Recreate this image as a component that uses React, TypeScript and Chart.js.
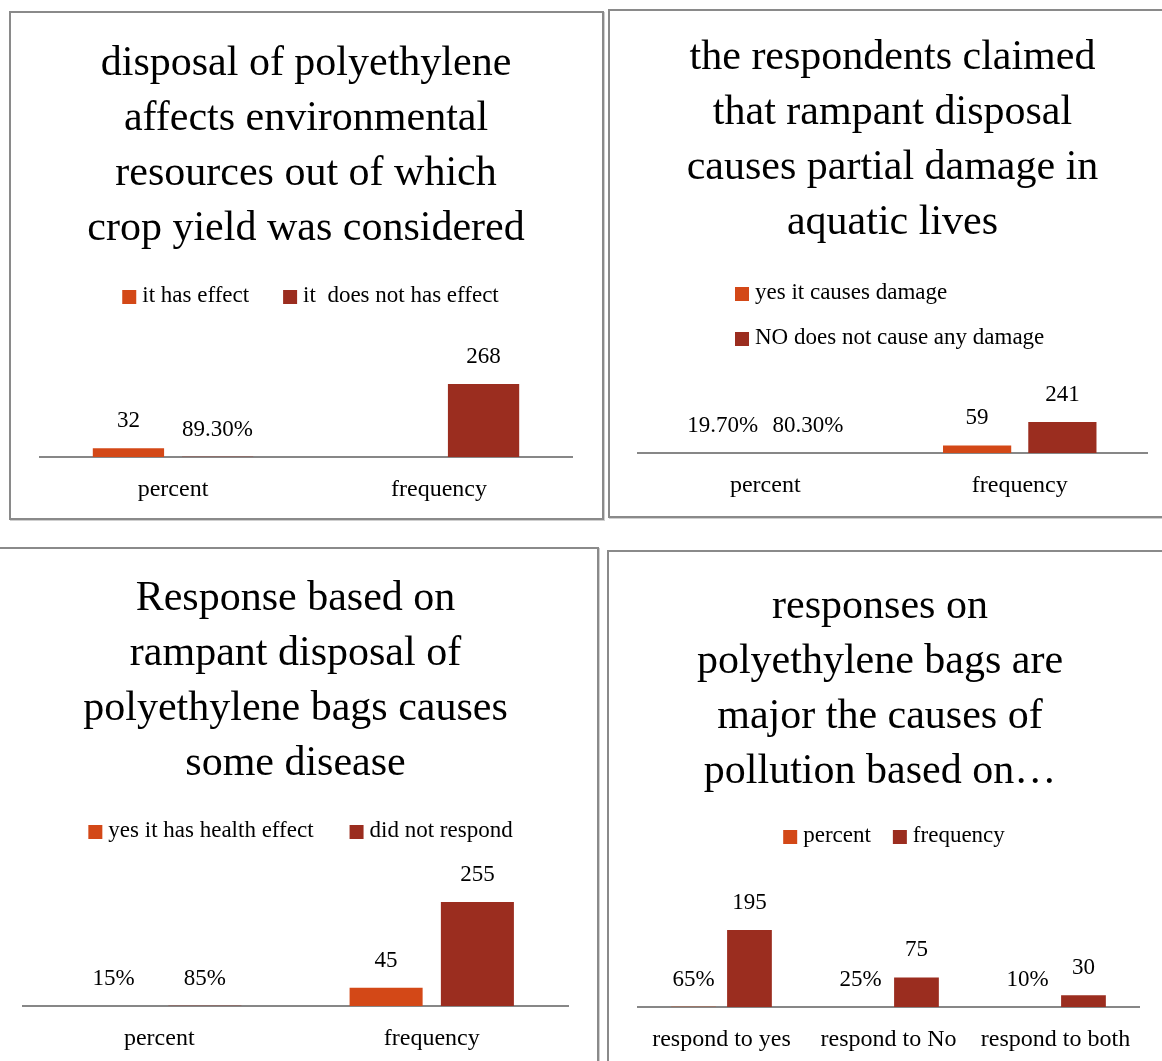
import React, { useEffect, useRef } from "react";
import { Chart, registerables } from "chart.js";

Chart.register(...registerables);

const FONT = "'Liberation Serif', 'Times New Roman', serif";
const ORANGE = "#D34817";
const DARKRED = "#9B2D1F";

// ---------- Panel 1 data ----------
const p1Title = ["disposal of polyethylene", "affects environmental", "resources out of which", "crop yield was considered"];
const p1Categories = ["percent", "frequency"];
const p1SeriesNames = ["it has effect", "it  does not has effect"];
const p1HasEffect = [32, null];
const p1NoEffect = [0.893, 268];
const p1HasEffectFmt = ["0", "0"];
const p1NoEffectFmt = ["0.00%", "0"];

// ---------- Panel 2 data ----------
const p2Title = ["the respondents claimed", "that rampant disposal", "causes partial damage in", "aquatic lives"];
const p2Categories = ["percent", "frequency"];
const p2SeriesNames = ["yes it causes damage", "NO does not cause any damage"];
const p2Yes = [0.197, 59];
const p2No = [0.803, 241];
const p2YesFmt = ["0.00%", "0"];
const p2NoFmt = ["0.00%", "0"];

// ---------- Panel 3 data ----------
const p3Title = ["Response based on", "rampant disposal of", "polyethylene bags causes", "some disease"];
const p3Categories = ["percent", "frequency"];
const p3SeriesNames = ["yes it has health effect", "did not respond"];
const p3Yes = [0.15, 45];
const p3NoResponse = [0.85, 255];
const p3YesFmt = ["0%", "0"];
const p3NoResponseFmt = ["0%", "0"];

// ---------- Panel 4 data ----------
const p4Title = ["responses on", "polyethylene bags are", "major the causes of", "pollution based on…"];
const p4Categories = ["respond to yes", "respond to No", "respond to both"];
const p4SeriesNames = ["percent", "frequency"];
const p4Percent = [0.65, 0.25, 0.1];
const p4Frequency = [195, 75, 30];
const p4PercentFmt = ["0%", "0%", "0%"];
const p4FrequencyFmt = ["0", "0", "0"];

function formatValue(v: number, f: string): string {
  if (f.endsWith("%")) {
    const dec = (f.split(".")[1] || "").replace("%", "").length;
    return (v * 100).toFixed(dec) + "%";
  }
  return String(Math.round(v));
}

const valueLabels = {
  id: "valueLabels",
  afterDatasetsDraw(chart: any, _args: any, opts: any) {
    const ctx = chart.ctx;
    ctx.save();
    ctx.font = `${opts.size}px ${FONT}`;
    ctx.fillStyle = "#000";
    ctx.textAlign = "center";
    ctx.textBaseline = "middle";
    chart.data.datasets.forEach((ds: any, i: number) => {
      const meta = chart.getDatasetMeta(i);
      meta.data.forEach((el: any, j: number) => {
        const v = ds.data[j];
        if (v === null || v === undefined) return;
        ctx.fillText(formatValue(v, ds.formats[j]), el.x, el.y - opts.offset);
      });
    });
    ctx.restore();
  },
};

const boxLegend = {
  id: "boxLegend",
  afterDraw(chart: any, _args: any, opts: any) {
    const ctx = chart.ctx;
    ctx.save();
    ctx.font = `${opts.size}px ${FONT}`;
    ctx.textBaseline = "middle";
    ctx.textAlign = "left";
    const box = opts.box;
    const tg = opts.textGap;
    opts.rows.forEach((row: any) => {
      const dss = row.items.map((i: number) => chart.data.datasets[i]);
      const widths = dss.map((ds: any) => box + tg + ctx.measureText(ds.label).width);
      const total = widths.reduce((a: number, b: number) => a + b, 0) + opts.itemGap * (dss.length - 1);
      let x = row.align === "left" ? row.x : row.x - total / 2;
      dss.forEach((ds: any, k: number) => {
        ctx.fillStyle = ds.backgroundColor;
        ctx.fillRect(x, row.y - box / 2, box, box);
        ctx.fillStyle = "#000";
        ctx.fillText(ds.label, x + box + tg, row.y - 1.5);
        x += widths[k] + opts.itemGap;
      });
    });
    ctx.restore();
  },
};

type Spec = {
  border: { left: number; top: number; width: number; height: number };
  canvas: { left: number; top: number; width: number; height: number };
  padL: number;
  padR: number;
  yAxisWidth: number;
  titleMid: number;
  axisY: number;
  plotTop: number;
  yMax: number;
  title: string[];
  categories: string[];
  datasets: { label: string; data: (number | null)[]; formats: string[]; color: string }[];
  legendRows: { align: string; x: number; y: number; items: number[] }[];
  itemGap: number;
};

const specs: Spec[] = [
  {
    border: { left: 9, top: 11, width: 595, height: 509 },
    canvas: { left: 11, top: 13, width: 591, height: 504 },
    padL: 29, padR: 30, yAxisWidth: 0,
    titleMid: 64, axisY: 457, plotTop: 375.3, yMax: 300,
    title: p1Title, categories: p1Categories,
    datasets: [
      { label: p1SeriesNames[0], data: p1HasEffect, formats: p1HasEffectFmt, color: ORANGE },
      { label: p1SeriesNames[1], data: p1NoEffect, formats: p1NoEffectFmt, color: DARKRED },
    ],
    legendRows: [{ align: "center", x: 310.5, y: 297, items: [0, 1] }],
    itemGap: 34,
  },
  {
    border: { left: 608, top: 9, width: 600, height: 509 },
    canvas: { left: 610, top: 11, width: 561, height: 504 },
    padL: 28, padR: 24, yAxisWidth: 0,
    titleMid: 58, axisY: 453, plotTop: 414.4, yMax: 300,
    title: p2Title, categories: p2Categories,
    datasets: [
      { label: p2SeriesNames[0], data: p2Yes, formats: p2YesFmt, color: ORANGE },
      { label: p2SeriesNames[1], data: p2No, formats: p2NoFmt, color: DARKRED },
    ],
    legendRows: [
      { align: "left", x: 735, y: 294, items: [0] },
      { align: "left", x: 735, y: 339, items: [1] },
    ],
    itemGap: 30,
  },
  {
    border: { left: -10, top: 547, width: 609, height: 560 },
    canvas: { left: 0, top: 550, width: 596, height: 515 },
    padL: 23, padR: 28, yAxisWidth: 0,
    titleMid: 599, axisY: 1006, plotTop: 883.6, yMax: 300,
    title: p3Title, categories: p3Categories,
    datasets: [
      { label: p3SeriesNames[0], data: p3Yes, formats: p3YesFmt, color: ORANGE },
      { label: p3SeriesNames[1], data: p3NoResponse, formats: p3NoResponseFmt, color: DARKRED },
    ],
    legendRows: [{ align: "center", x: 300.5, y: 832, items: [0, 1] }],
    itemGap: 36,
  },
  {
    border: { left: 607, top: 550, width: 600, height: 560 },
    canvas: { left: 610, top: 553, width: 560, height: 512 },
    padL: 11, padR: 31, yAxisWidth: 17,
    titleMid: 607, axisY: 1007, plotTop: 908.3, yMax: 250,
    title: p4Title, categories: p4Categories,
    datasets: [
      { label: p4SeriesNames[0], data: p4Percent, formats: p4PercentFmt, color: ORANGE },
      { label: p4SeriesNames[1], data: p4Frequency, formats: p4FrequencyFmt, color: DARKRED },
    ],
    legendRows: [{ align: "center", x: 894, y: 837, items: [0, 1] }],
    itemGap: 22,
  },
];

function Panel({ spec }: { spec: Spec }) {
  const ref = useRef<HTMLCanvasElement>(null);
  useEffect(() => {
    const c = ref.current;
    if (!c) return;
    const cv = spec.canvas;
    const tickSize = 24;
    const tickPad = 18;
    const axisH = tickSize * 1.2 + tickPad * 2;
    const padBottom = cv.height - (spec.axisY - cv.top) - axisH;
    const titleSize = 42;
    const titleLH = 55;
    const titlePadTop = spec.titleMid - cv.top - titleLH / 2;
    const titleBottom = cv.top + titlePadTop + spec.title.length * titleLH;
    const titlePadBottom = spec.plotTop - titleBottom;
    const chart = new Chart(c, {
      type: "bar",
      data: {
        labels: spec.categories,
        datasets: spec.datasets.map((d) => ({
          label: d.label,
          data: d.data,
          formats: d.formats,
          backgroundColor: d.color,
          borderWidth: 0,
          inflateAmount: 0,
          categoryPercentage: 0.67,
          barPercentage: 0.8,
        })) as any,
      },
      options: {
        animation: false,
        responsive: false,
        events: [],
        layout: { padding: { left: spec.padL, right: spec.padR, top: 0, bottom: padBottom } },
        plugins: {
          legend: { display: false },
          tooltip: { enabled: false },
          title: {
            display: true,
            text: spec.title,
            color: "#000",
            font: { family: FONT, size: titleSize, weight: "normal", lineHeight: titleLH / titleSize },
            padding: { top: titlePadTop, bottom: titlePadBottom },
          },
          valueLabels: { size: 23, offset: 27 },
          boxLegend: {
            size: 23,
            box: 14,
            textGap: 6,
            itemGap: spec.itemGap,
            rows: spec.legendRows.map((r) => ({ ...r, x: r.x - cv.left, y: r.y - cv.top })),
          },
        } as any,
        scales: {
          x: {
            z: 1,
            grid: { display: false, drawTicks: false, tickLength: 0 },
            border: { display: true, color: "#878787", width: 2 },
            ticks: {
              color: "#000",
              font: { family: FONT, size: tickSize },
              padding: tickPad,
              maxRotation: 0,
              minRotation: 0,
              autoSkip: false,
            },
          },
          y: {
            display: spec.yAxisWidth > 0,
            min: 0,
            max: spec.yMax,
            grid: { display: false, drawTicks: false },
            border: { display: false },
            ticks: { display: false },
            afterFit: (s: any) => {
              s.width = spec.yAxisWidth;
            },
          },
        },
      },
      plugins: [valueLabels, boxLegend],
    });
    return () => chart.destroy();
  }, [spec]);
  const b = spec.border;
  const cv = spec.canvas;
  return (
    <>
      <div
        style={{
          position: "absolute",
          left: b.left,
          top: b.top,
          width: b.width,
          height: b.height,
          boxSizing: "border-box",
          border: "2px solid #8a8a8a",
          boxShadow: "1px 1px 0 #cfcfcf",
          background: "#fff",
        }}
      />
      <canvas
        ref={ref}
        width={cv.width}
        height={cv.height}
        style={{ position: "absolute", left: cv.left, top: cv.top, width: cv.width, height: cv.height }}
      />
    </>
  );
}

export default function App() {
  return (
    <div
      style={{
        position: "fixed",
        left: 0,
        top: 0,
        width: 1162,
        height: 1061,
        overflow: "hidden",
        background: "#fff",
      }}
    >
      {specs.map((s, i) => (
        <Panel key={i} spec={s} />
      ))}
    </div>
  );
}
